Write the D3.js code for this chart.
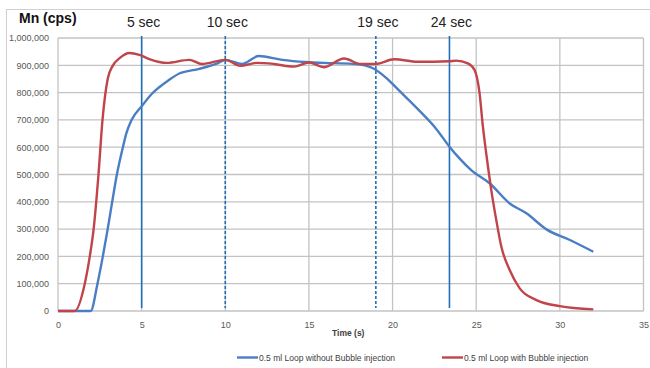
<!DOCTYPE html>
<html>
<head>
<meta charset="utf-8">
<script src="https://cdn.jsdelivr.net/npm/d3@7"></script>
<style>
  body { margin: 0; background: #fff; }
  svg { display: block; }
  .tick text { font-family: "Liberation Sans", Arial, sans-serif; font-size: 9px; fill: #595959; }
</style>
</head>
<body>
<svg id="chart" width="650" height="368"></svg>
<script>
// time (s) / Mn counts
var blueTime = [0, 1, 1.95, 2.36, 2.68, 2.97, 3.24, 3.52, 3.88, 4.08, 4.4, 5, 5.6, 6.65, 7.25, 8.45, 9.6, 10,
  11, 12, 13.4, 14.8, 16.4, 17.8, 18.8, 19.6, 20.4, 21.6, 22.6, 23.4, 24.0, 24.7, 25.8, 27, 28, 29.2, 30.6, 32];
var blueCps = [0, 0, 0, 100000, 200000, 300000, 400000, 500000, 600000, 650000, 700000, 750000, 795000, 847000, 870000, 887000, 909000, 920000,
  905000, 934000, 920000, 912000, 908000, 905000, 890000, 855000, 807000, 734000, 668000, 602000, 559000, 516000, 468000, 394000, 358000, 299000, 260000, 217000];

var redTime = [0, 1, 1.6, 1.9, 2.13, 2.42, 2.66, 2.97, 3.27, 3.7, 4.27, 4.87, 5.46, 6.5, 7.85, 8.6, 10,
  10.9, 11.9, 12.9, 14.1, 15, 15.9, 17.1, 18.1, 19, 20.1, 21.5, 23.4, 23.8, 24.5, 24.9, 25.2, 25.4, 25.65,
  25.9, 26.2, 26.5, 27, 27.6, 28.6, 30, 32];
var redCps = [0, 0, 100000, 200000, 300000, 500000, 700000, 850000, 898000, 927000, 945000, 938000, 923000, 909000, 920000, 905000, 920000,
  898000, 909000, 905000, 895000, 910000, 893000, 925000, 905000, 905000, 922000, 913000, 915000, 917000, 907000, 883000, 798000, 675000, 553000,
  443000, 333000, 236000, 150000, 83000, 40000, 18000, 6000];

var seriesNames = ["0.5 ml Loop without Bubble injection", "0.5 ml Loop with Bubble injection"];
var seriesColors = ["#4a7ec4", "#c0444a"];

var markerTime = [5, 10, 19, 23.4];
var markerLabels = ["5 sec", "10 sec", "19 sec", "24 sec"];
var markerDashed = [false, true, true, false];

var xTicks = [0, 5, 10, 15, 20, 25, 30, 35];
var yTicks = [0, 100000, 200000, 300000, 400000, 500000, 600000, 700000, 800000, 900000, 1000000];

var svg = d3.select("#chart");

// outer frame
svg.append("rect")
  .attr("x", 6.5).attr("y", 9.5)
  .attr("width", 700).attr("height", 400)
  .attr("fill", "none").attr("stroke", "#d0d0d0");

var plotL = 58, plotR = 643.5, plotT = 38, plotB = 311;

var x = d3.scaleLinear().domain([0, 35]).range([plotL, plotR]);
var y = d3.scaleLinear().domain([0, 1000000]).range([plotB, plotT]);

// grid
svg.append("g").selectAll("line").data(yTicks).join("line")
  .attr("x1", plotL).attr("x2", plotR)
  .attr("y1", function(d) { return y(d); }).attr("y2", function(d) { return y(d); })
  .attr("stroke", "#c3c3c3").attr("stroke-width", 1.3);
svg.append("g").selectAll("line").data(xTicks).join("line")
  .attr("y1", plotT).attr("y2", plotB)
  .attr("x1", function(d) { return x(d); }).attr("x2", function(d) { return x(d); })
  .attr("stroke", "#c3c3c3").attr("stroke-width", 1.3);

// axes (labels only)
var yAxis = svg.append("g")
  .attr("transform", "translate(" + (plotL - 6) + ",0)")
  .call(d3.axisLeft(y).tickValues(yTicks).tickSize(0).tickFormat(d3.format(",")));
yAxis.select(".domain").remove();

var xAxis = svg.append("g")
  .attr("transform", "translate(0," + (plotB + 8) + ")")
  .call(d3.axisBottom(x).tickValues(xTicks).tickSize(0).tickFormat(d3.format("d")));
xAxis.select(".domain").remove();

// marker lines
markerTime.forEach(function(t, i) {
  svg.append("line")
    .attr("x1", x(t)).attr("x2", x(t))
    .attr("y1", 36).attr("y2", 308)
    .attr("stroke", "#1f6fb8").attr("stroke-width", 1.6)
    .attr("stroke-dasharray", markerDashed[i] ? "3,2" : null);
  svg.append("text")
    .attr("x", x(t) + 2).attr("y", 27)
    .attr("text-anchor", "middle")
    .attr("font-family", "'Liberation Sans Narrow', 'Liberation Sans', sans-serif")
    .attr("font-size", 14).attr("fill", "#222")
    .text(markerLabels[i]);
});

// data lines
var line = d3.line()
  .x(function(d) { return x(d[0]); })
  .y(function(d) { return y(d[1]); })
  .curve(d3.curveMonotoneX);

var blueData = d3.zip(blueTime, blueCps);
var redData = d3.zip(redTime, redCps);

svg.append("path").datum(blueData)
  .attr("d", line).attr("fill", "none")
  .attr("stroke", seriesColors[0]).attr("stroke-width", 2.4);
svg.append("path").datum(redData)
  .attr("d", line).attr("fill", "none")
  .attr("stroke", seriesColors[1]).attr("stroke-width", 2.4);

// titles
svg.append("text")
  .attr("x", 19).attr("y", 23)
  .attr("font-family", "'Liberation Sans', Arial, sans-serif")
  .attr("font-weight", "bold").attr("font-size", 14).attr("fill", "#111")
  .text("Mn (cps)");

svg.append("text")
  .attr("x", 332).attr("y", 336)
  .attr("font-family", "'Liberation Sans', Arial, sans-serif")
  .attr("font-weight", "bold").attr("font-size", 8.5).attr("fill", "#404040")
  .text("Time (s)");

// legend
var legendX = [237, 442];
seriesNames.forEach(function(name, i) {
  svg.append("line")
    .attr("x1", legendX[i]).attr("x2", legendX[i] + 21)
    .attr("y1", 357.5).attr("y2", 357.5)
    .attr("stroke", seriesColors[i]).attr("stroke-width", 2.4);
  svg.append("text")
    .attr("x", legendX[i] + 22).attr("y", 360.5)
    .attr("font-family", "'Liberation Sans', Arial, sans-serif")
    .attr("font-size", 8.5).attr("fill", "#404040")
    .text(name);
});
</script>
</body>
</html>
